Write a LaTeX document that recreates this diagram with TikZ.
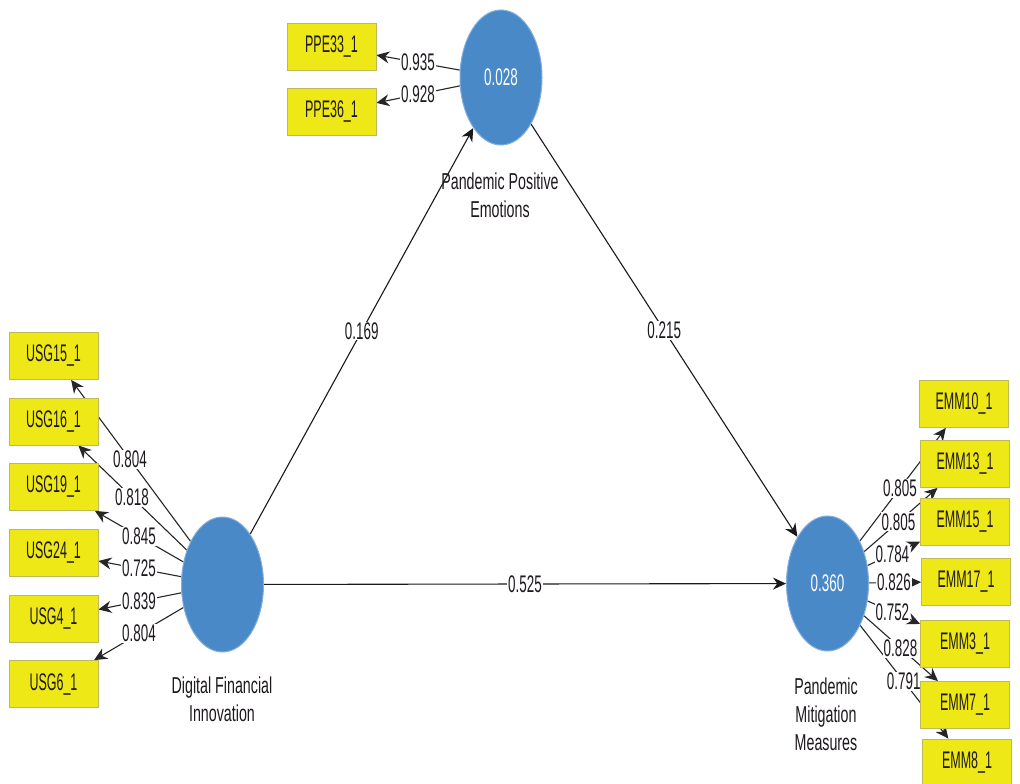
\documentclass[tikz,border=0pt]{standalone}
\usepackage{fontspec}
\setmainfont{Liberation Sans}
\newfontfamily\boxfont{Liberation Sans}[FakeStretch=0.52]
\newfontfamily\numfont{Liberation Sans}[FakeStretch=0.56]
\newfontfamily\latfont{Liberation Sans}[FakeStretch=0.62]
\usetikzlibrary{arrows.meta,calc,shapes.geometric}
\pgfdeclarelayer{back}
\pgfdeclarelayer{bg}
\pgfsetlayers{back,bg,main}
\definecolor{lvblue}{RGB}{74,137,200}
\definecolor{lvedge}{RGB}{130,175,222}
\definecolor{mvyellow}{RGB}{238,232,22}
\definecolor{mvedge}{RGB}{190,185,90}
\definecolor{txt}{RGB}{30,25,30}
\begin{document}
\begin{tikzpicture}[x=1pt,y=-1pt,
  latent/.style={ellipse, fill=lvblue, draw=lvedge, line width=1pt,
    minimum width=82pt, minimum height=135pt, inner sep=0pt, text=white,
    font=\numfont\fontsize{24}{24}\selectfont},
  indicator/.style={rectangle, fill=mvyellow, draw=mvedge, line width=0.8pt,
    minimum width=89pt, minimum height=47pt, inner sep=0pt, text=txt,
    font=\boxfont\fontsize{24}{24}\selectfont},
  loadline/.style={-{Stealth[length=13pt,width=12pt]}, line width=1.1pt, draw=black!85},
  pathline/.style={-{Stealth[length=13pt,width=12pt]}, line width=1.1pt, draw=black!90},
  coef/.style={fill=white, inner sep=1pt, text=txt,
    font=\numfont\fontsize{24}{24}\selectfont},
  lvlabel/.style={align=center, text=txt, inner sep=0pt,
    font=\latfont\fontsize{23}{28}\selectfont}]
\begin{pgfonlayer}{back}
\fill[white] (0,0) rectangle (1020,784);
\end{pgfonlayer}
\useasboundingbox (0,0) rectangle (1020,784);

% latent variables
\node[latent] (ppe) at (501,77.5) {0.028};
\node[latent] (dfi) at (222.5,584.5) {};
\node[latent] (pmm) at (827.5,583.5) {0.360};

\node[lvlabel] (ppelbl) at (500,195.5) {Pandemic Positive\\Emotions};
\node[lvlabel] (dfilbl) at (222,699.5) {Digital Financial\\Innovation};
\node[lvlabel] (pmmlbl) at (826,714.5) {Pandemic\\Mitigation\\Measures};

% indicators
\node[indicator] (ppe33) at (331.5,47) {PPE33\_1};
\node[indicator] (ppe36) at (331.5,112) {PPE36\_1};

\node[indicator] (usg15) at (53.5,356) {USG15\_1};
\node[indicator] (usg16) at (53.5,421.5) {USG16\_1};
\node[indicator] (usg19) at (53.5,487) {USG19\_1};
\node[indicator] (usg24) at (53.5,552.5) {USG24\_1};
\node[indicator] (usg4) at (53.5,618.5) {USG4\_1};
\node[indicator] (usg6) at (53.5,684) {USG6\_1};

\node[indicator] (emm10) at (964,404) {EMM10\_1};
\node[indicator] (emm13) at (965,464) {EMM13\_1};
\node[indicator] (emm15) at (965,521.5) {EMM15\_1};
\node[indicator] (emm17) at (966,581.5) {EMM17\_1};
\node[indicator] (emm3) at (965,643.5) {EMM3\_1};
\node[indicator] (emm7) at (965,705) {EMM7\_1};
\node[indicator] (emm8) at (967,762.5) {EMM8\_1};

\begin{pgfonlayer}{bg}
% structural paths
\draw[pathline] (dfi) -- node[coef, midway] {0.169} (ppe);
\draw[pathline] (ppe) -- node[coef, midway] {0.215} (pmm);
\draw[pathline] (dfi) -- node[coef, midway] {0.525} (pmm);

% outer loadings
\draw[loadline] (ppe) -- (ppe33);
\draw[loadline] (ppe) -- (ppe36);
\node[coef] at ($(ppe)!0.49!(ppe33)$) {0.935};
\node[coef] at ($(ppe)!0.49!(ppe36)$) {0.928};

\draw[loadline] (dfi) -- (usg15);
\draw[loadline] (dfi) -- (usg16);
\draw[loadline] (dfi) -- (usg19);
\draw[loadline] (dfi) -- (usg24);
\draw[loadline] (dfi) -- (usg4);
\draw[loadline] (dfi) -- (usg6);
\node[coef] at ($(dfi)!0.547!(usg15)$) {0.804};
\node[coef] at ($(dfi)!0.536!(usg16)$) {0.818};
\node[coef] at ($(dfi)!0.494!(usg19)$) {0.845};
\node[coef] at ($(dfi)!0.494!(usg24)$) {0.725};
\node[coef] at ($(dfi)!0.494!(usg4)$) {0.839};
\node[coef] at ($(dfi)!0.494!(usg6)$) {0.804};

\draw[loadline] (pmm) -- (emm10);
\draw[loadline] (pmm) -- (emm13);
\draw[loadline] (pmm) -- (emm15);
\draw[loadline] (pmm) -- (emm17);
\draw[loadline] (pmm) -- (emm3);
\draw[loadline] (pmm) -- (emm7);
\draw[loadline] (pmm) -- (emm8);
\node[coef] at ($(pmm)!0.531!(emm10)$) {0.805};
\node[coef] at ($(pmm)!0.516!(emm13)$) {0.805};
\node[coef] at ($(pmm)!0.472!(emm15)$) {0.784};
\node[coef] at ($(pmm)!0.48!(emm17)$) {0.826};
\node[coef] at ($(pmm)!0.472!(emm3)$) {0.752};
\node[coef] at ($(pmm)!0.531!(emm7)$) {0.828};
\node[coef] at ($(pmm)!0.546!(emm8)$) {0.791};
\end{pgfonlayer}
\end{tikzpicture}
\end{document}
